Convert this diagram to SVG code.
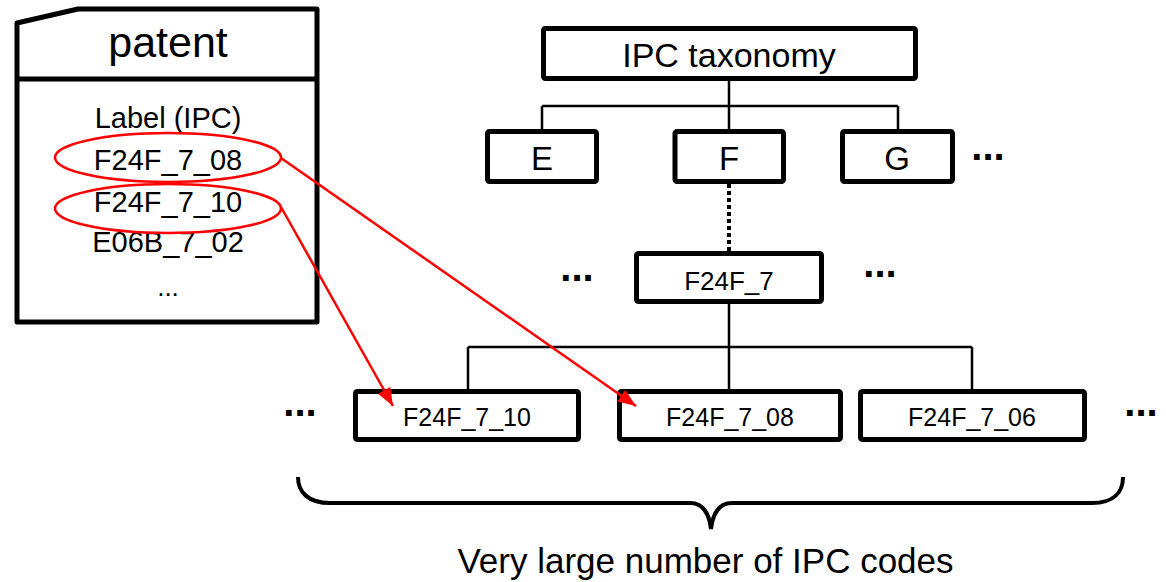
<svg xmlns="http://www.w3.org/2000/svg" width="1166" height="582" viewBox="0 0 1166 582">
<style>
text{font-family:"Liberation Sans",Arial,sans-serif;fill:#000;text-anchor:middle}
.box{fill:#fff;stroke:#000;stroke-width:5;stroke-linejoin:round}
.thin{fill:none;stroke:#000;stroke-width:2.5}
.red{fill:none;stroke:#f00;stroke-width:2.5}
.dots{font-weight:bold;font-size:40px}
</style>
<defs>
<marker id="ah" markerUnits="userSpaceOnUse" markerWidth="20" markerHeight="16" refX="18" refY="7" orient="auto">
<path d="M0,0 L18,7 L0,14 Z" fill="#f00"/>
</marker>
</defs>
<g id="patent">
<path d="M17,23 L78,9 L317,9 L317,322 L17,322 Z" fill="#fff" stroke="#000" stroke-width="5" stroke-linejoin="round"/>
<path d="M17,79 H317" stroke="#000" stroke-width="5"/>
<text x="168" y="57" font-size="43">patent</text>
<text x="168" y="128" font-size="29">Label (IPC)</text>
<text x="168" y="170" font-size="29">F24F_7_08</text>
<text x="168" y="212" font-size="29">F24F_7_10</text>
<text x="168" y="252" font-size="29">E06B_7_02</text>
<text x="168" y="296" font-size="26">...</text>
<ellipse class="red" cx="168" cy="157.5" rx="113" ry="24.5" stroke-width="3"/>
<ellipse class="red" cx="168" cy="208.5" rx="113" ry="24.5" stroke-width="3"/>
</g>
<g id="ipc-taxonomy">
<rect class="box" x="543.5" y="28.5" width="372" height="50" rx="2"/>
<text x="729" y="67" font-size="34">IPC taxonomy</text>
</g>
<g id="node-E">
<rect class="box" x="487.5" y="131.5" width="109" height="50" rx="2"/>
<text x="542" y="170" font-size="33">E</text>
</g>
<g id="node-F">
<rect class="box" x="675" y="131.5" width="108.5" height="50" rx="2"/>
<text x="729" y="170" font-size="33">F</text>
</g>
<g id="node-G">
<rect class="box" x="842.5" y="131.5" width="110" height="50" rx="2"/>
<text x="897" y="170" font-size="33">G</text>
</g>
<text class="dots" x="988" y="160">...</text>
<g id="node-F24F_7">
<rect class="box" x="636.5" y="253.5" width="185" height="48" rx="2"/>
<text x="729" y="290" font-size="26">F24F_7</text>
</g>
<text class="dots" x="577" y="281">...</text>
<text class="dots" x="880" y="277">...</text>
<g id="node-F24F_7_10">
<rect class="box" x="355.5" y="391.5" width="223" height="48" rx="2"/>
<text x="467" y="426" font-size="25">F24F_7_10</text>
</g>
<g id="node-F24F_7_08">
<rect class="box" x="619.5" y="391.5" width="221" height="48" rx="2"/>
<text x="730" y="426" font-size="25">F24F_7_08</text>
</g>
<g id="node-F24F_7_06">
<rect class="box" x="860.5" y="391.5" width="224" height="48" rx="2"/>
<text x="972" y="426" font-size="25">F24F_7_06</text>
</g>
<text class="dots" x="300" y="416">...</text>
<text class="dots" x="1141" y="416">...</text>
<text x="705.5" y="573" font-size="35">Very large number of IPC codes</text>
<g id="connectors">
<path class="thin" d="M729,81 V106 M542,106 H898 M542,106 V129 M729,106 V129 M898,106 V129"/>
<path d="M729,184 V251" fill="none" stroke="#000" stroke-width="4" stroke-dasharray="4 3"/>
<path class="thin" d="M729,304 V347 M468,347 H972 M468,347 V389 M729,347 V389 M972,347 V389"/>
<path d="M298,477 C298,492 308,503 330,503 L690,503 C702,503 709,512 711,529 C713,512 720,503 732,503 L1092,503 C1114,503 1123,492 1123,477" fill="none" stroke="#000" stroke-width="4"/>
<line class="red" x1="281" y1="158" x2="636" y2="406" marker-end="url(#ah)"/>
<line class="red" x1="281" y1="207" x2="393" y2="406" marker-end="url(#ah)"/>
</g>
</svg>
